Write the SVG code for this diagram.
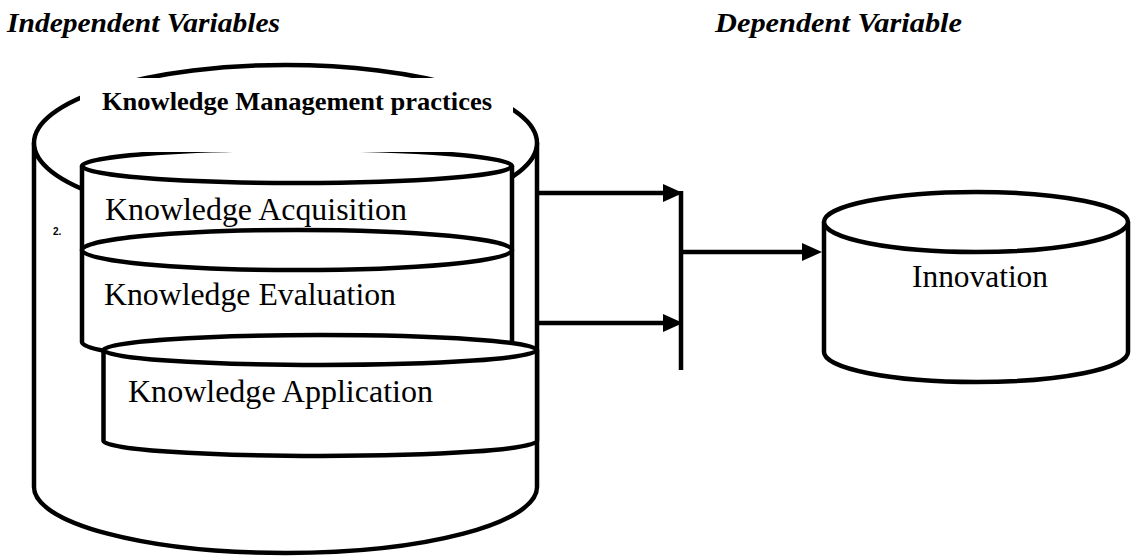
<svg xmlns="http://www.w3.org/2000/svg" width="1132" height="556" viewBox="0 0 1132 556">
  <defs>
    <style>
      .shp { fill: #ffffff; stroke: #000000; stroke-width: 4.5; }
      .ln { fill: none; stroke: #000000; stroke-width: 4.5; }
      .hdr { font-family: "Liberation Serif", "Times New Roman", serif; font-size: 27px; font-weight: bold; font-style: italic; fill: #000; }
      .ttl { font-family: "Liberation Serif", "Times New Roman", serif; font-size: 26px; font-weight: bold; fill: #000; }
      .lbl { font-family: "Liberation Serif", "Times New Roman", serif; font-size: 31px; fill: #000; }
      .num { font-family: "Liberation Sans", Arial, sans-serif; font-size: 10px; font-weight: bold; fill: #000; }
    </style>
    <marker id="ah" markerUnits="userSpaceOnUse" markerWidth="20" markerHeight="18" refX="2" refY="9" orient="auto">
      <path d="M0,0 L20,9 L0,18 Z" fill="#000"/>
    </marker>
  </defs>
  <rect x="0" y="0" width="1132" height="556" fill="#ffffff"/>

  <text class="hdr" x="7" y="32" textLength="273" lengthAdjust="spacingAndGlyphs">Independent Variables</text>
  <text class="hdr" x="715" y="32" textLength="247" lengthAdjust="spacingAndGlyphs">Dependent Variable</text>

  <g id="km-practices">
    <path class="shp" d="M34,143 L34,487 A251.5,66 0 0 0 537,487 L537,143"/>
    <ellipse class="shp" cx="285.5" cy="143" rx="251.5" ry="78"/>
  </g>

  <g id="knowledge-acquisition">
    <path class="shp" d="M82,166 L82,250 A215,20 0 0 0 512,250 L512,166"/>
    <ellipse class="shp" cx="297" cy="166" rx="215" ry="17"/>
    <text class="lbl" x="105" y="220" textLength="302" lengthAdjust="spacingAndGlyphs">Knowledge Acquisition</text>
  </g>

  <g id="km-title">
    <rect x="80" y="78" width="433" height="74" fill="#ffffff"/>
    <text class="ttl" x="102" y="110" textLength="390" lengthAdjust="spacingAndGlyphs">Knowledge Management practices</text>
  </g>

  <g id="knowledge-evaluation">
    <path class="shp" d="M82,250 L82,342 A215,20 0 0 0 512,342 L512,250"/>
    <ellipse class="shp" cx="297" cy="250" rx="215" ry="20"/>
    <text class="lbl" x="104" y="305" textLength="292" lengthAdjust="spacingAndGlyphs">Knowledge Evaluation</text>
  </g>

  <g id="knowledge-application">
    <path class="shp" d="M103.5,350 L103.5,441 A216.75,15 0 0 0 537,441 L537,350"/>
    <ellipse class="shp" cx="320.25" cy="350" rx="216.75" ry="15"/>
    <text class="lbl" x="128" y="402" textLength="305" lengthAdjust="spacingAndGlyphs">Knowledge Application</text>
  </g>

  <text class="num" x="53" y="235">2.</text>

  <g id="innovation">
    <path class="shp" d="M824,222 L824,352 A152,30 0 0 0 1128,352 L1128,222"/>
    <ellipse class="shp" cx="976" cy="222" rx="152" ry="30"/>
    <text class="lbl" x="912" y="287" textLength="136" lengthAdjust="spacingAndGlyphs">Innovation</text>
  </g>

  <g id="connectors">
    <line class="ln" x1="537" y1="193" x2="665" y2="193" marker-end="url(#ah)"/>
    <line class="ln" x1="537" y1="323" x2="665" y2="323" marker-end="url(#ah)"/>
    <line class="ln" x1="681" y1="191" x2="681" y2="370"/>
    <line class="ln" x1="681" y1="252" x2="804" y2="252" marker-end="url(#ah)"/>
  </g>
</svg>
